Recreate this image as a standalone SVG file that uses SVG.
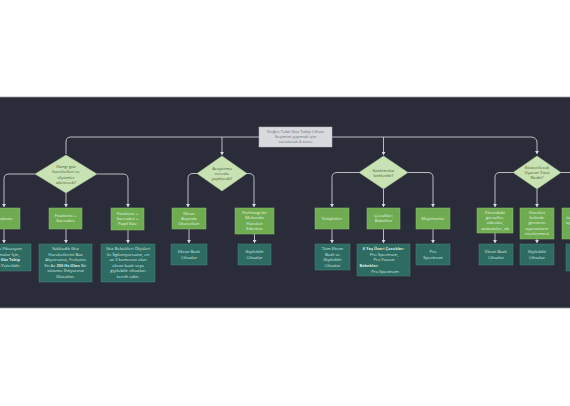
<svg xmlns="http://www.w3.org/2000/svg" width="570" height="406" viewBox="0 0 570 406">
<style>
text{font-family:"Open Sans","Liberation Sans",sans-serif;font-size:4.3px;text-anchor:middle}
.dia polygon{fill:#c8e2b4;stroke:#aacb94;stroke-width:0.5}
.dia text{fill:#3e5a30}
.g rect{fill:#6fab50;stroke:#8cc46c;stroke-width:0.5}
.g text{fill:#eaf6e2}
.t rect{fill:#2e6b62;stroke:#4a877d;stroke-width:0.5}
.t text{fill:#d6ece7}
.b{font-weight:bold;font-size:4px}
#conn path{fill:none;stroke:#c9ccd2;stroke-width:0.9}
</style>
<defs>
<marker id="ah" markerWidth="4" markerHeight="4" refX="3" refY="2" orient="auto" markerUnits="userSpaceOnUse">
<path d="M0,0 L3,2 L0,4 Z" fill="#d8dade"/>
</marker>
</defs>
<rect x="0" y="0" width="570" height="406" fill="#ffffff"/>
<rect x="0" y="97" width="570" height="211" fill="#2a2c3a"/>
<line x1="0" y1="97" x2="570" y2="97" stroke="#9a9ca4" stroke-width="0.8"/>
<line x1="0" y1="308" x2="570" y2="308" stroke="#9a9ca4" stroke-width="0.8"/>

<g id="conn">
<path d="M66,154 V142 Q66,137 71,137 H531 Q536,137 537,142 V154" marker-end="url(#ah)"/>
<path d="M222,137 V155" marker-end="url(#ah)"/>
<path d="M383.5,137 V155" marker-end="url(#ah)"/>
<path d="M35,174 H9 Q4,174 4,179 V207" marker-end="url(#ah)"/>
<path d="M66,193 V207" marker-end="url(#ah)"/>
<path d="M97,174 H123 Q128,174 128,179 V207" marker-end="url(#ah)"/>
<path d="M198,173.5 H193 Q188,173.5 188,178.5 V207" marker-end="url(#ah)"/>
<path d="M246,173.5 H249 Q254,173.5 254,178.5 V207" marker-end="url(#ah)"/>
<path d="M359,172.5 H337 Q332,172.5 332,177.5 V207" marker-end="url(#ah)"/>
<path d="M383.5,189 V207" marker-end="url(#ah)"/>
<path d="M408,172.5 H428 Q433,172.5 433,177.5 V207" marker-end="url(#ah)"/>
<path d="M513,172.5 H500 Q495,172.5 495,177.5 V207" marker-end="url(#ah)"/>
<path d="M537,189 V207" marker-end="url(#ah)"/>
<path d="M561,172.5 H574 Q579,172.5 579,177.5 V207" marker-end="url(#ah)"/>
<path d="M4,229 V243" marker-end="url(#ah)"/>
<path d="M66,229 V243" marker-end="url(#ah)"/>
<path d="M128,230 V243" marker-end="url(#ah)"/>
<path d="M189,229 V243" marker-end="url(#ah)"/>
<path d="M254.5,234 V243" marker-end="url(#ah)"/>
<path d="M332,229 V243" marker-end="url(#ah)"/>
<path d="M383.5,229 V243" marker-end="url(#ah)"/>
<path d="M433,229 V243" marker-end="url(#ah)"/>
<path d="M495,233 V243" marker-end="url(#ah)"/>
<path d="M537,239 V243" marker-end="url(#ah)"/>
<path d="M579,239 V243" marker-end="url(#ah)"/>
</g>

<g id="root">
<rect x="259" y="127" width="73" height="20" fill="#d8dadd" stroke="#b6b8bc" stroke-width="0.5"/>
<text y="132.5" fill="#6b6e74"><tspan x="295.5">Doğru Tobii Göz Takip Cihazı</tspan><tspan x="295.5" dy="5.4">Seçimini yapmak için</tspan><tspan x="295.5" dy="5.4">sorulacak 4 soru:</tspan></text>
</g>

<g id="d1" class="dia">
<polygon points="66,155 97,174 66,193 35,174"/>
<text y="168"><tspan x="66">Hangi göz</tspan><tspan x="66" dy="5.3">hareketleri ve</tspan><tspan x="66" dy="5.3">ölçümler</tspan><tspan x="66" dy="5.3">izlenecek?</tspan></text>
</g>
<g id="d2" class="dia">
<polygon points="222,156 247,173.5 222,191 197,173.5"/>
<text y="169.5"><tspan x="222">Araştırma</tspan><tspan x="222" dy="5.3">nerede</tspan><tspan x="222" dy="5.3">yapılacak?</tspan></text>
</g>
<g id="d3" class="dia">
<polygon points="383.5,156 408,172.5 383.5,189 359,172.5"/>
<text y="171.5"><tspan x="383.5">Katılımcılar</tspan><tspan x="383.5" dy="5.3">kimlerdir?</tspan></text>
</g>
<g id="d4" class="dia">
<polygon points="537,156 561,172.5 537,189 513,172.5"/>
<text y="168.5"><tspan x="537">Gösterilecek</tspan><tspan x="537" dy="5.3">Uyaran Türü</tspan><tspan x="537" dy="5.3">Nedir?</tspan></text>
</g>

<g id="nA" class="g"><rect x="-13" y="208" width="33" height="21"/><text x="3.5" y="220">Fixations</text></g>
<g id="nB" class="g"><rect x="49" y="208" width="33" height="21"/><text y="217"><tspan x="65.5">Fixations +</tspan><tspan x="65.5" dy="5.4">Saccades</tspan></text></g>
<g id="nC" class="g"><rect x="111" y="208" width="33" height="22"/><text y="214.5"><tspan x="127.5">Fixations +</tspan><tspan x="127.5" dy="5.4">Saccades +</tspan><tspan x="127.5" dy="5.4">Pupil Size</tspan></text></g>
<g id="nD" class="g"><rect x="172" y="208" width="34" height="21"/><text y="214.5"><tspan x="189">Ekran</tspan><tspan x="189" dy="5.4">Başında</tspan><tspan x="189" dy="5.4">Otururken</tspan></text></g>
<g id="nE" class="g"><rect x="235" y="208" width="39" height="26"/><text y="214"><tspan x="254.5">Herhangi bir</tspan><tspan x="254.5" dy="5.4">Mekanda</tspan><tspan x="254.5" dy="5.4">Hareket</tspan><tspan x="254.5" dy="5.4">Ederken</tspan></text></g>
<g id="nF" class="g"><rect x="315" y="208" width="34" height="21"/><text x="332" y="220">Yetişkinler</text></g>
<g id="nG" class="g"><rect x="367" y="208" width="33" height="21"/><text y="217"><tspan x="383.5">Çocuklar;</tspan><tspan x="383.5" dy="5.4">Bebekler</tspan></text></g>
<g id="nH" class="g"><rect x="416" y="208" width="34" height="21"/><text x="433" y="220">Maymunlar</text></g>
<g id="nI" class="g"><rect x="477" y="208" width="36" height="25"/><text y="213.5"><tspan x="495">Ekrandaki</tspan><tspan x="495" dy="5.4">görseller,</tspan><tspan x="495" dy="5.4">videolar,</tspan><tspan x="495" dy="5.4">websiteler, vb</tspan></text></g>
<g id="nJ" class="g"><rect x="520" y="208" width="34" height="31"/><text y="213.5"><tspan x="537">Hareket</tspan><tspan x="537" dy="5.4">halinde</tspan><tspan x="537" dy="5.4">görünen</tspan><tspan x="537" dy="5.4">uyaranların</tspan><tspan x="537" dy="5.4">incelenmesi</tspan></text></g>
<g id="nK" class="g"><rect x="562" y="208" width="34" height="31"/><text y="213.5"><tspan x="579">Mobil</tspan><tspan x="579" dy="5.4">tabletlerdeki</tspan><tspan x="579" dy="5.4">uygulamalar,</tspan><tspan x="579" dy="5.4">web</tspan></text></g>

<g id="nA2" class="t"><rect x="-22" y="244" width="53" height="27"/><text y="250"><tspan x="4.5">Sadece Fiksasyon</tspan><tspan x="4.5" dy="5.6">Çalışmalar İçin,</tspan><tspan x="4.5" dy="5.6" class="b">60 Hz Göz Takip</tspan><tspan x="4.5" dy="5.6">Cihazı Yeterlidir.</tspan></text></g>
<g id="nB2" class="t"><rect x="39" y="244" width="53" height="38"/><text y="250"><tspan x="65.5">Sakkadik Göz</tspan><tspan x="65.5" dy="5.6">Hareketlerini Baz</tspan><tspan x="65.5" dy="5.6">Alıyorsanız, Frekansı</tspan><tspan x="65.5" dy="5.6">En Az <tspan class="b">250 Hz Olan</tspan> Bir</tspan><tspan x="65.5" dy="5.6">sisteme İhtiyacınız</tspan><tspan x="65.5" dy="5.6">Olacaktır.</tspan></text></g>
<g id="nC2" class="t"><rect x="101" y="244" width="54" height="38"/><text y="250"><tspan x="128">Göz Bebekleri Ölçüleri</tspan><tspan x="128" dy="5.6">ile İlgileniyorsanız, en</tspan><tspan x="128" dy="5.6">az 2 kamerası olan</tspan><tspan x="128" dy="5.6">ekran bazlı veya</tspan><tspan x="128" dy="5.6">giyilebilir cihazları</tspan><tspan x="128" dy="5.6">tercih edin.</tspan></text></g>
<g id="nD2" class="t"><rect x="171" y="244" width="36" height="21"/><text y="253"><tspan x="189">Ekran Bazlı</tspan><tspan x="189" dy="5.6">Cihazlar</tspan></text></g>
<g id="nE2" class="t"><rect x="238" y="244" width="33" height="21"/><text y="253"><tspan x="254.5">Giyilebilir</tspan><tspan x="254.5" dy="5.6">Cihazlar</tspan></text></g>
<g id="nF2" class="t"><rect x="315" y="244" width="35" height="26"/><text y="250"><tspan x="332.5">Tüm Ekran</tspan><tspan x="332.5" dy="5.6">Bazlı ve</tspan><tspan x="332.5" dy="5.6">Giyilebilir</tspan><tspan x="332.5" dy="5.6">Cihazlar</tspan></text></g>
<g id="nG2" class="t"><rect x="357" y="244" width="53" height="32"/><text y="250"><tspan x="383.5" class="b">6 Yaş Üzeri Çocuklar:</tspan><tspan x="384" dy="5.6">Pro Spectrum,</tspan><tspan x="384" dy="5.6">Pro Fusion</tspan><tspan x="359.5" dy="6" class="b" style="text-anchor:start">Bebekler:</tspan><tspan x="385" dy="6">Pro Spectrum</tspan></text></g>
<g id="nH2" class="t"><rect x="416" y="244" width="34" height="21"/><text y="253"><tspan x="433">Pro</tspan><tspan x="433" dy="5.6">Spectrum</tspan></text></g>
<g id="nI2" class="t"><rect x="479" y="244" width="34" height="21"/><text y="253"><tspan x="496">Ekran Bazlı</tspan><tspan x="496" dy="5.6">Cihazlar</tspan></text></g>
<g id="nJ2" class="t"><rect x="520" y="244" width="34" height="21"/><text y="253"><tspan x="537">Giyilebilir</tspan><tspan x="537" dy="5.6">Cihazlar</tspan></text></g>
<g id="nK2" class="t"><rect x="566" y="244" width="34" height="27"/><text y="250"><tspan x="583">Mobil</tspan><tspan x="583" dy="5.6">veya Ekran</tspan><tspan x="583" dy="5.6">Bazlı</tspan><tspan x="583" dy="5.6">Cihazlar</tspan></text></g>
</svg>
